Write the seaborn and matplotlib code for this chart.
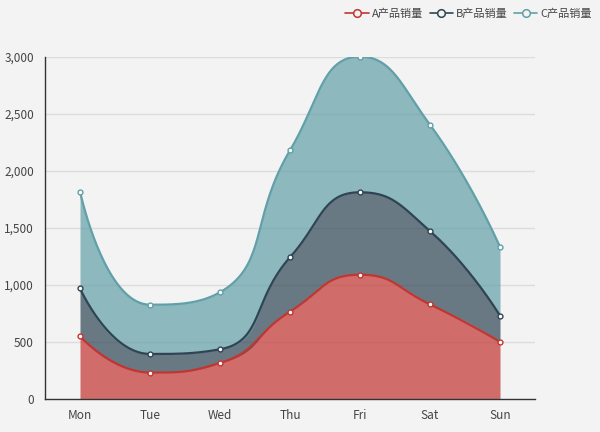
import numpy as np
import pandas as pd
import seaborn as sns
import matplotlib.pyplot as plt
from matplotlib.ticker import FuncFormatter
from matplotlib.lines import Line2D

days = ['Mon', 'Tue', 'Wed', 'Thu', 'Fri', 'Sat', 'Sun']
sales_a = [550, 232, 316, 766, 1090, 830, 502]
sales_b = [420, 163, 120, 477, 723, 643, 228]
sales_c = [850, 432, 500, 938, 1190, 932, 603]
names = ['A产品销量', 'B产品销量', 'C产品销量']
colors = ['#c23531', '#2f4554', '#61a0a8']
bg = '#f3f3f3'

sns.set_theme(style='white')
plt.rcParams['font.family'] = ['Noto Sans CJK SC', 'DejaVu Sans']

df = pd.DataFrame({'day': days, names[0]: sales_a, names[1]: sales_b, names[2]: sales_c})
stacked = df[names].cumsum(axis=1)

# pixel scale used for the echarts-like smoothing
xpx, ypx = 70.0, 342.0 / 3000


def smooth_curve(xs, ys, smooth=0.5, n=40):
    # bezier smoothing with control points clamped to neighbour ranges (like echarts 5)
    P = np.column_stack([np.asarray(xs, float) * xpx, np.asarray(ys, float) * ypx])
    m = len(P)
    cps = []
    for i in range(m):
        if i == 0 or i == m - 1:
            cps.append((P[i].copy(), P[i].copy()))
            continue
        prv, cur, nxt = P[i - 1], P[i], P[i + 1]
        v = nxt - prv
        l0 = np.linalg.norm(cur - prv)
        l1 = np.linalg.norm(nxt - cur)
        r = l1 / (l0 + l1)
        c1 = cur + v * smooth * r
        c1 = np.minimum(c1, np.maximum(nxt, cur))
        c1 = np.maximum(c1, np.minimum(nxt, cur))
        v = c1 - cur
        c0 = cur - v * l0 / l1
        c0 = np.minimum(c0, np.maximum(prv, cur))
        c0 = np.maximum(c0, np.minimum(prv, cur))
        v = cur - c0
        c1 = cur + v * l1 / l0
        cps.append((c0, c1))
    out = []
    t = np.linspace(0, 1, n)[:, None]
    for i in range(m - 1):
        p0, p3 = P[i], P[i + 1]
        p1, p2 = cps[i][1], cps[i + 1][0]
        seg = (1 - t) ** 3 * p0 + 3 * (1 - t) ** 2 * t * p1 + 3 * (1 - t) * t ** 2 * p2 + t ** 3 * p3
        out.append(seg if i == 0 else seg[1:])
    out = np.vstack(out)
    return out[:, 0] / xpx, out[:, 1] / ypx


fig = plt.figure(figsize=(6, 4.32), dpi=100, facecolor=bg)
ax = fig.add_axes([0.075, 0.0764, 0.8167, 0.7917], facecolor=bg)

xi = np.arange(len(days))
for v in range(500, 3001, 500):
    ax.axhline(v, color='#dcdcdc', lw=1, zorder=0)

prev = None
for k, name in enumerate(names):
    cx, cy = smooth_curve(xi, stacked[name].values)
    base = np.zeros_like(cy) if prev is None else prev
    ax.fill_between(cx, base, cy, color=colors[k], alpha=0.7, lw=0, zorder=1 + k)
    sns.lineplot(x=cx, y=cy, ax=ax, color=colors[k], lw=1.6, zorder=5 + k, sort=False)
    ax.plot(xi, stacked[name].values, 'o', ms=3.5, mfc='white', mec=colors[k], mew=1, zorder=10 + k)
    prev = cy

ax.set_xlim(-0.5, 6.5)
ax.set_ylim(0, 3000)
ax.set_yticks(range(0, 3001, 500))
ax.yaxis.set_major_formatter(FuncFormatter(lambda v, p: f'{int(v):,}'))
ax.set_xticks(xi)
ax.set_xticklabels(days)
ax.set_xticks(np.arange(-0.5, 7, 1), minor=True)
ax.tick_params(axis='x', which='major', length=0, pad=7, labelsize=8.5, labelcolor='#444444')
ax.tick_params(axis='x', which='minor', length=5, width=1, color='#333333', direction='out')
ax.tick_params(axis='y', length=5, width=1, color='#333333', direction='out', labelsize=8.5, labelcolor='#444444', pad=3)
ax.set_xlabel('')
ax.set_ylabel('')
for s in ['top', 'right']:
    ax.spines[s].set_visible(False)
for s in ['left', 'bottom']:
    ax.spines[s].set_color('#333333')
    ax.spines[s].set_linewidth(1)

handles = [Line2D([0], [0], color=c, lw=1.2, marker='o', ms=5.5, mfc=bg, mec=c, mew=1.1) for c in colors]
leg = fig.legend(handles, names, loc='upper right', bbox_to_anchor=(1.0, 1.0), ncol=3, frameon=False,
                 fontsize=8, handlelength=2.1, handletextpad=0.25, columnspacing=0.6, borderaxespad=0.35)
for t in leg.get_texts():
    t.set_color('#444444')

fig.savefig('out.png', dpi=100, facecolor=bg)
